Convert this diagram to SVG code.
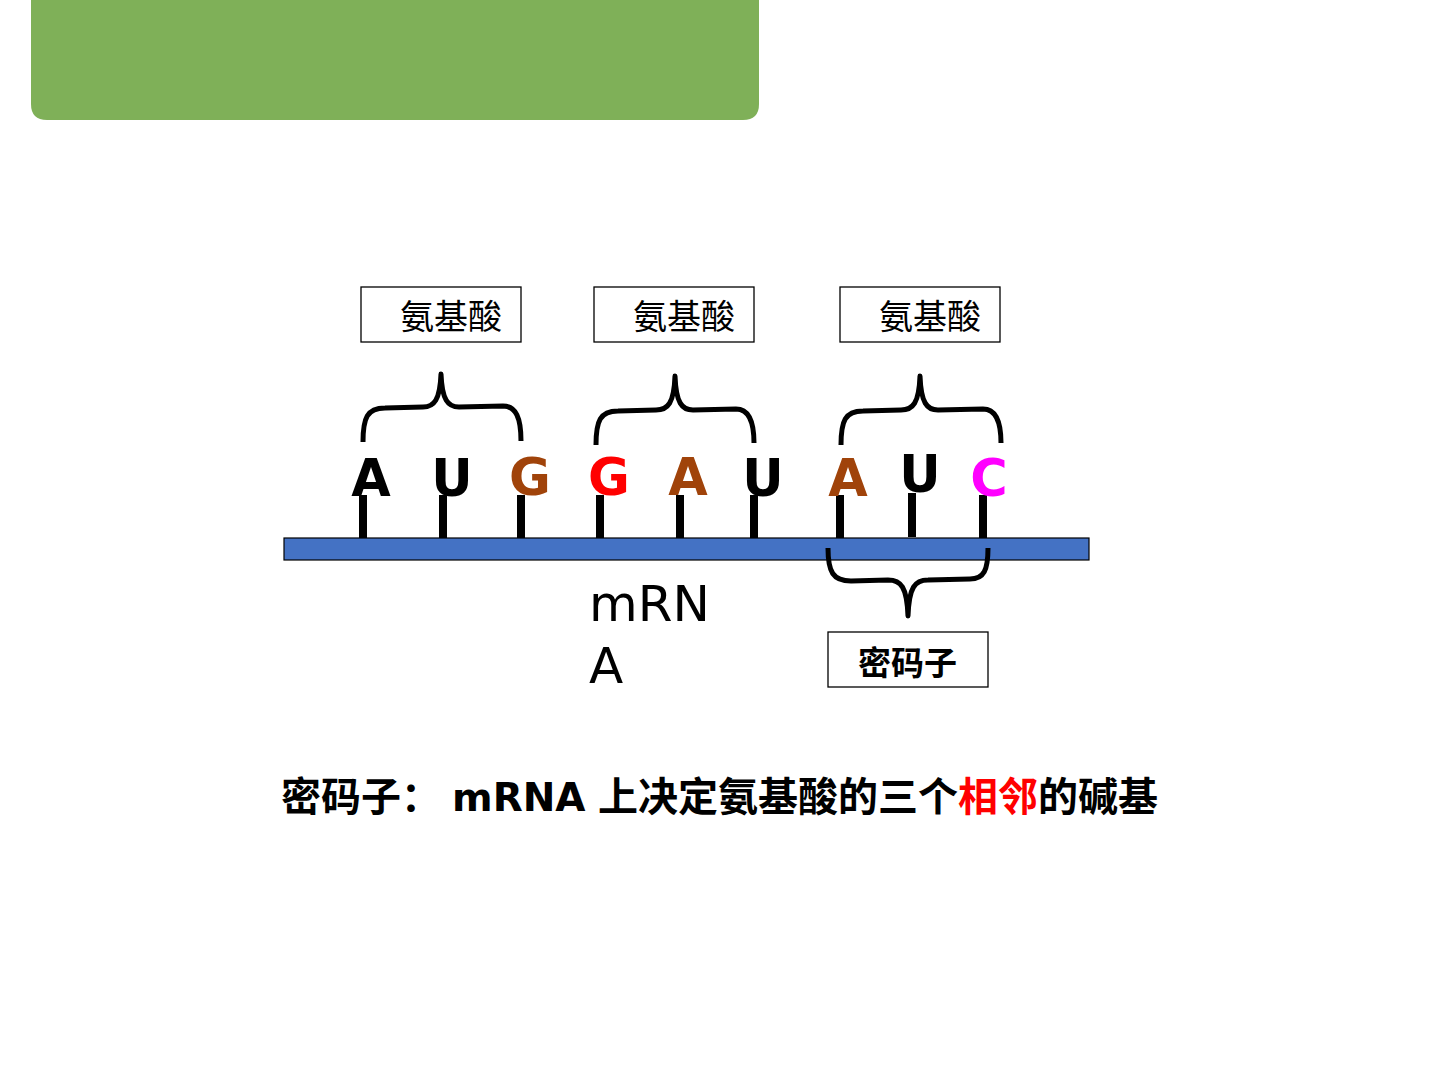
<svg xmlns="http://www.w3.org/2000/svg" width="1440" height="1080" viewBox="0 0 1440 1080">
<style>
.box{fill:#fff;stroke:#000;stroke-width:1.3}
.lbl{font-family:"Noto Sans CJK SC",sans-serif;font-size:34px;fill:#000}
.base{font-family:"DejaVu Sans",sans-serif;font-weight:bold;font-size:51px;text-anchor:middle}
.tick{stroke:#000;stroke-width:8}
.brace{fill:none;stroke:#000;stroke-width:5;stroke-linejoin:round}
</style>
<rect width="1440" height="1080" fill="#fff"/>
<path id="header" d="M31,0 H759 V104 Q759,120 743,120 H47 Q31,120 31,104 Z" fill="#7fb058"/>
<g id="mrna">
<rect x="284" y="538" width="805" height="22" fill="#4472c4" stroke="#000" stroke-width="1.2"/>
<text x="589" y="621" font-family="DejaVu Sans, sans-serif" font-size="50" fill="#000">mRN</text>
<text x="589" y="683" font-family="DejaVu Sans, sans-serif" font-size="50" fill="#000">A</text>
</g>
<g id="ticks">
<line class="tick" x1="363" y1="495" x2="363" y2="538"/>
<line class="tick" x1="443" y1="495" x2="443" y2="538"/>
<line class="tick" x1="521" y1="495" x2="521" y2="538"/>
<line class="tick" x1="600" y1="495" x2="600" y2="538"/>
<line class="tick" x1="680" y1="495" x2="680" y2="538"/>
<line class="tick" x1="754" y1="495" x2="754" y2="538"/>
<line class="tick" x1="840" y1="495" x2="840" y2="538"/>
<line class="tick" x1="912" y1="493" x2="912" y2="537"/>
<line class="tick" x1="983" y1="495" x2="983" y2="538"/>
</g>
<g id="bases">
<text class="base" x="371" y="496" fill="#000">A</text>
<text class="base" x="452" y="496" fill="#000">U</text>
<text class="base" x="530" y="495" fill="#a0430a">G</text>
<text class="base" x="609" y="495" fill="#ff0000">G</text>
<text class="base" x="688" y="495" fill="#a0430a">A</text>
<text class="base" x="763" y="496" fill="#000">U</text>
<text class="base" x="848" y="496" fill="#a0430a">A</text>
<text class="base" x="920" y="492" fill="#000">U</text>
<text class="base" x="989" y="496" fill="#ff00ff">C</text>
</g>
<g id="braces">
<path class="brace" d="M363,442 C363,418 367,408 385,408 L423,407 C434,407 440,400 441,374 C442,400 448,407 459,407 L503,406 C516,406 521,418 521,441"/>
<path class="brace" d="M596,445 C596,421 600,411 618,411 L656,410 C668,410 674,403 675,376 C676,403 682,410 693,410 L736,409 C749,409 754,421 754,443"/>
<path class="brace" d="M841,445 C841,421 845,411 863,411 L901,410 C913,410 919,403 920,376 C921,403 927,410 938,410 L983,409 C996,409 1001,421 1001,443"/>
<path class="brace" d="M828,548 C828,572 833,581 851,581 L888,580 C901,580 907,587 908,616 C909,587 915,580 928,580 L970,579 C984,579 988,570 988,548"/>
</g>
<g id="aa1"><rect class="box" x="361" y="287" width="160" height="55"/><text class="lbl" x="400" y="329">氨基酸</text></g>
<g id="aa2"><rect class="box" x="594" y="287" width="160" height="55"/><text class="lbl" x="633" y="329">氨基酸</text></g>
<g id="aa3"><rect class="box" x="840" y="287" width="160" height="55"/><text class="lbl" x="879" y="329">氨基酸</text></g>
<g id="codon"><rect class="box" x="828" y="632" width="160" height="55"/><text x="858" y="675" font-family="Noto Sans CJK SC, sans-serif" font-weight="bold" font-size="33" fill="#000">密码子</text></g>
<g id="caption">
<text x="281" y="811" font-family="Noto Sans CJK SC, sans-serif" font-weight="bold" font-size="40" fill="#000">密码子：<tspan x="452" font-family="DejaVu Sans, sans-serif" font-size="39">mRNA</tspan><tspan x="598">上决定氨基酸的三个</tspan><tspan fill="#ff0000">相邻</tspan>的碱基</text>
</g>
</svg>
